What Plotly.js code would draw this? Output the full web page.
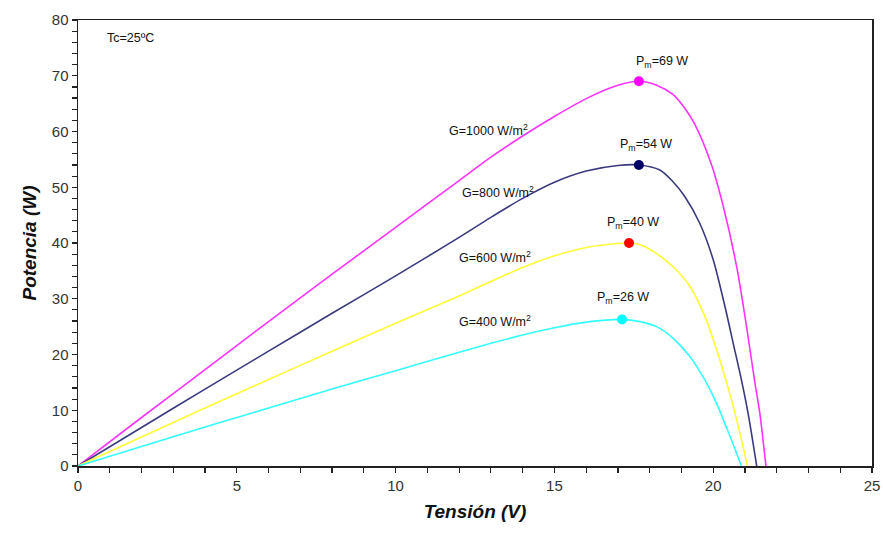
<!DOCTYPE html>
<html>
<head>
<meta charset="utf-8">
<script src="https://cdn.plot.ly/plotly-3.0.1.min.js"></script>
<style>html,body{margin:0;padding:0;background:#fff}#chart{width:883px;height:538px}</style>
</head>
<body>
<div id="chart"></div>
<script>
// Voltage (V) and power (W)
const v1000 = [0, 2, 4, 6, 8, 10, 12, 13, 14, 15, 16, 17, 17.66, 18.22, 18.74, 19.1, 19.43, 19.95, 20.32, 20.74, 21.05, 21.3, 21.47, 21.66];
const p1000 = [0, 8.7, 17.3, 25.9, 34.4, 42.8, 51.2, 55.4, 59.2, 62.7, 65.9, 68.3, 69.0, 68.3, 66.6, 64.2, 61.2, 54.0, 46.5, 35.7, 25.0, 15.4, 9.4, 0];

const v800 = [0, 2, 4, 6, 8, 10, 12, 13, 14, 15, 16, 17, 17.66, 18.32, 18.7, 19.11, 19.58, 20.0, 20.37, 20.63, 20.89, 21.1, 21.37];
const p800 = [0, 6.9, 13.8, 20.6, 27.4, 34.1, 41.0, 44.6, 48.0, 50.9, 52.9, 53.9, 54.0, 53.1, 51.2, 48.3, 43.5, 37.0, 28.6, 22.0, 15.4, 9.4, 0];

const v600 = [0, 2, 4, 6, 8, 10, 12, 13, 14, 15, 16, 17, 17.35, 17.7, 18.22, 18.74, 19.27, 19.74, 20.11, 20.4, 20.69, 21.08];
const p600 = [0, 5.2, 10.4, 15.5, 20.6, 25.6, 30.5, 33.1, 35.6, 37.7, 39.2, 39.9, 40.0, 39.7, 38.1, 35.7, 32.2, 26.8, 20.8, 15.4, 9.4, 0];

const v400 = [0, 2, 4, 6, 8, 10, 12, 13, 14, 15, 16, 17.13, 17.7, 18.22, 18.74, 19.27, 19.74, 20.11, 20.53, 20.89];
const p400 = [0, 3.5, 7.0, 10.4, 13.8, 17.1, 20.4, 22.0, 23.5, 24.8, 25.8, 26.3, 25.9, 25.0, 22.9, 19.6, 15.4, 11.2, 5.3, 0];

// Maximum power points
const mppV = [17.66, 17.66, 17.35, 17.13];
const mppP = [69, 54, 40, 26.3];
const mppLabels = ['P<sub>m</sub>=69 W', 'P<sub>m</sub>=54 W', 'P<sub>m</sub>=40 W', 'P<sub>m</sub>=26 W'];
const gLabels = ['G=1000 W/m<sup>2</sup>', 'G=800 W/m<sup>2</sup>', 'G=600 W/m<sup>2</sup>', 'G=400 W/m<sup>2</sup>'];
const tempLabel = 'Tc=25ºC';

const lineColors = ['#ff33ff', '#3a3a80', '#ffff33', '#33ffff'];
const markerColors = ['#ff00ff', '#000066', '#ff0000', '#00ffff'];

const series = [[v1000, p1000], [v800, p800], [v600, p600], [v400, p400]];
const traces = series.map((s, i) => ({
  x: s[0], y: s[1], type: 'scatter', mode: 'lines',
  line: {color: lineColors[i], width: 1.6, shape: 'spline', smoothing: 0.8},
  hoverinfo: 'x+y', showlegend: false
}));
traces.push({
  x: mppV, y: mppP, type: 'scatter', mode: 'markers',
  marker: {color: markerColors, size: 10}, showlegend: false
});

const font = {family: 'Liberation Sans, Arial, sans-serif', color: '#111', size: 12.5};
const gPos = [[12.94, 60.3], [13.22, 49.1], [13.13, 37.5], [13.13, 26.0]];
const pmPos = [[18.39, 72.5], [17.88, 57.6], [17.47, 43.6], [17.16, 30.1]];
const annotations = [];
gLabels.forEach((t, i) => annotations.push({x: gPos[i][0], y: gPos[i][1], text: t, showarrow: false, font: font}));
mppLabels.forEach((t, i) => annotations.push({x: pmPos[i][0], y: pmPos[i][1], text: t, showarrow: false, font: font}));
annotations.push({x: 1.64, y: 76.8, text: tempLabel, showarrow: false, font: font});

const axisCommon = {
  showgrid: false, zeroline: false, showline: true, linecolor: '#222', linewidth: 1.5,
  mirror: true, ticks: 'outside', ticklen: 5, tickwidth: 1.2, tickcolor: '#222',
  tickfont: {family: 'Liberation Sans, Arial, sans-serif', size: 15, color: '#333'}
};

const layout = {
  width: 883, height: 538,
  margin: {l: 78, r: 11, t: 20, b: 72},
  paper_bgcolor: '#fff', plot_bgcolor: '#fff',
  xaxis: Object.assign({}, axisCommon, {
    range: [0, 25], dtick: 5,
    minor: {dtick: 1, ticks: 'outside', ticklen: 5, tickwidth: 1.2, tickcolor: '#222'},
    title: {text: 'Tensión (V)', standoff: 12, font: {family: 'Liberation Sans, Arial, sans-serif', size: 19, color: '#111', weight: 'bold', style: 'italic'}}
  }),
  yaxis: Object.assign({}, axisCommon, {
    range: [0, 80], dtick: 10,
    minor: {dtick: 2, ticks: 'outside', ticklen: 5, tickwidth: 1.2, tickcolor: '#222'},
    title: {text: 'Potencia (W)', standoff: 10, font: {family: 'Liberation Sans, Arial, sans-serif', size: 19, color: '#111', weight: 'bold', style: 'italic'}}
  }),
  annotations: annotations
};

Plotly.newPlot('chart', traces, layout, {displayModeBar: false, staticPlot: true});
</script>
</body>
</html>
